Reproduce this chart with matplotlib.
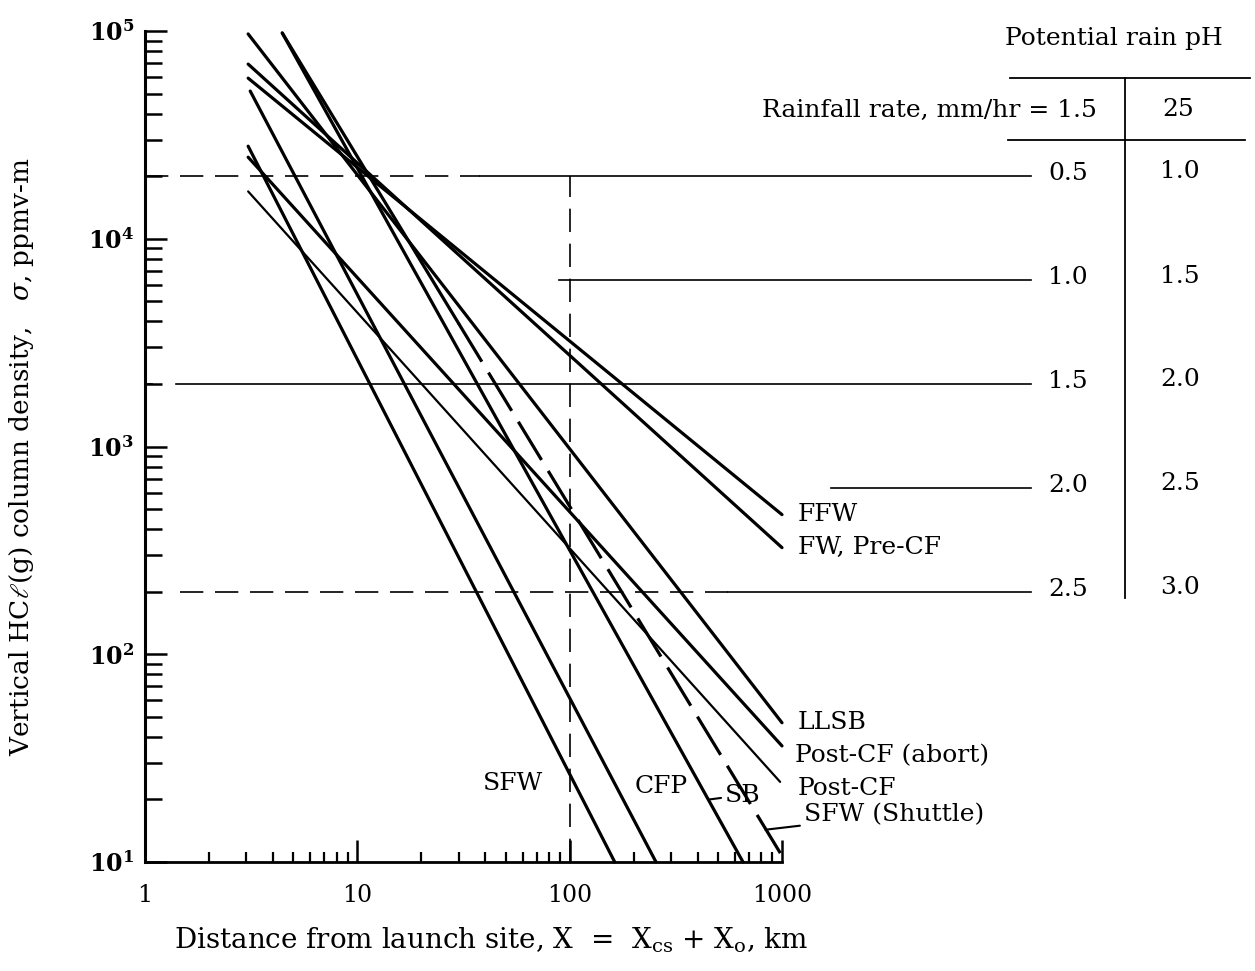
import numpy as np
import matplotlib
matplotlib.use("Agg")
import matplotlib.pyplot as plt
from matplotlib.lines import Line2D
from matplotlib import transforms
from matplotlib.ticker import FixedLocator, LogLocator, NullFormatter

plt.rcParams['font.family'] = ['DejaVu Serif', 'DejaVu Sans']
plt.rcParams['mathtext.fontset'] = 'dejavuserif'

# straight lines on log-log axes, end points
names = ['FFW', 'FW, Pre-CF', 'LLSB', 'Post-CF (abort)', 'Post-CF',
         'SFW (Shuttle)', 'SFW', 'CFP', 'SB']
x_start = [3.06, 3.06, 3.06, 3.06, 3.06, 4.43, 3.06, 3.13, 4.43]
y_start = [59300, 69300, 96800, 24700, 16900, 97800, 27900, 51400, 97800]
x_end = [1000, 1000, 1000, 1000, 980, 1000, 163, 255, 655]
y_end = [470, 326, 46.8, 36.2, 24.3, 10.7, 10, 10, 10]
x_dash_from = 30   # SFW (Shuttle) is drawn solid up to here, dashed after

# label anchor points (data coords)
lab_x = [1190, 1190, 1190, 1150, 1190, 1270, 54, 270, 540]
lab_y = [470, 326, 47, 32.4, 22.7, 16.9, 24, 23, 21]

# rainfall / pH table
sigma_levels = [2e4, 6300, 2e3, 630, 200]
ph_low = ['0.5', '1.0', '1.5', '2.0', '2.5']    # 1.5 mm/hr
ph_high = ['1.0', '1.5', '2.0', '2.5', '3.0']   # 25 mm/hr

fig = plt.figure(figsize=(12.55, 9.71), dpi=100)
ax = fig.add_axes([145/1255, 109/971, 637/1255, 831/971])
ax.set_xscale('log')
ax.set_yscale('log')
ax.set_xlim(1, 1000)
ax.set_ylim(10, 1e5)

for i, n in enumerate(names):
    lw = 1.6 if n == 'Post-CF' else 2.3
    xs = [x_start[i], x_end[i]]
    ys = [y_start[i], y_end[i]]
    if n == 'SFW (Shuttle)':
        # split at x_dash_from along the log-log straight line
        t = (np.log10(x_dash_from) - np.log10(xs[0])) / (np.log10(xs[1]) - np.log10(xs[0]))
        ym = 10 ** (np.log10(ys[0]) + t * (np.log10(ys[1]) - np.log10(ys[0])))
        ax.plot([xs[0], x_dash_from], [ys[0], ym], color='black', lw=lw,
                solid_capstyle='round', clip_on=False)
        ax.plot([x_dash_from, xs[1]], [ym, ys[1]], color='black', lw=lw,
                dashes=(14, 4), dash_capstyle='butt', clip_on=False)
    else:
        ax.plot(xs, ys, color='black', lw=lw, solid_capstyle='round', clip_on=False)

# labels
fs = 18
for i, n in enumerate(names[:5]):
    ax.text(lab_x[i], lab_y[i], n, fontsize=fs, va='center', ha='left')
ax.annotate('SFW (Shuttle)', xy=(835, 14.3), xytext=(lab_x[5], lab_y[5]),
            fontsize=fs, va='center', ha='left',
            arrowprops=dict(arrowstyle='-', lw=1.5, color='black', shrinkA=1, shrinkB=0))
ax.text(lab_x[6], lab_y[6], 'SFW', fontsize=fs, va='center', ha='center')
ax.text(lab_x[7], lab_y[7], 'CFP', fontsize=fs, va='center', ha='center')
ax.annotate('SB', xy=(455, 20), xytext=(lab_x[8], lab_y[8]),
            fontsize=fs, va='center', ha='left',
            arrowprops=dict(arrowstyle='-', lw=1.5, color='black', shrinkA=1, shrinkB=0))

# reference lines (sigma levels)
thin = dict(color='black', lw=1.2, clip_on=False)
xr = 14900
ax.plot([1, 38], [sigma_levels[0]]*2, dashes=(14, 7), **thin)
ax.plot([38, xr], [sigma_levels[0]]*2, **thin)
ax.plot([89, xr], [sigma_levels[1]]*2, **thin)
ax.plot([1, 1.08], [sigma_levels[2]]*2, **thin)
ax.plot([1.4, xr], [sigma_levels[2]]*2, **thin)
ax.plot([1700, xr], [sigma_levels[3]]*2, **thin)
ax.plot([1.46, 556], [sigma_levels[4]]*2, dashes=(14, 7), **thin)
ax.plot([556, xr], [sigma_levels[4]]*2, **thin)
ax.plot([100, 100], [10, sigma_levels[0]], dashes=(14, 7), **thin)

# table
ft = 18
bt = transforms.blended_transform_factory(fig.transFigure, ax.transData)
for lvl, a, b in zip(sigma_levels, ph_low, ph_high):
    ax.text(1068/1255, lvl * 1.03, a, transform=bt, fontsize=ft, ha='center', va='center')
    ax.text(1180/1255, lvl * 1.05, b, transform=bt, fontsize=ft, ha='center', va='center')

fig.text(1005/1255, 1 - 38/971, 'Potential rain pH', fontsize=ft, ha='left', va='center')
fig.text(1097/1255, 1 - 110/971, 'Rainfall rate, mm/hr = 1.5', fontsize=ft,
         ha='right', va='center')
fig.text(1178/1255, 1 - 110/971, '25', fontsize=ft, ha='center', va='center')
fig.add_artist(Line2D([1010/1255, 1250/1255], [1 - 78/971]*2, color='black', lw=1.3))
fig.add_artist(Line2D([1008/1255, 1245/1255], [1 - 140/971]*2, color='black', lw=1.3))
fig.add_artist(Line2D([1125/1255]*2, [1 - 78/971, 1 - 598/971], color='black', lw=1.3))

# axes styling
for s in ['top', 'right']:
    ax.spines[s].set_visible(False)
ax.spines['left'].set_linewidth(2.2)
ax.spines['bottom'].set_linewidth(2.0)

ax.xaxis.set_major_locator(FixedLocator([1, 10, 100, 1000]))
ax.set_xticklabels(['1', '10', '100', '1000'])
ax.xaxis.set_minor_locator(LogLocator(base=10, subs=np.arange(2, 10)))
ax.xaxis.set_minor_formatter(NullFormatter())
ax.yaxis.set_major_locator(FixedLocator([10, 100, 1e3, 1e4, 1e5]))
ax.set_yticklabels([r'$\mathbf{10^{%d}}$' % k for k in range(1, 6)])
ax.yaxis.set_minor_locator(LogLocator(base=10, subs=np.arange(2, 10)))
ax.yaxis.set_minor_formatter(NullFormatter())

ax.tick_params(axis='x', which='major', direction='in', length=16, width=1.8,
               pad=16, labelsize=17)
ax.tick_params(axis='x', which='minor', direction='in', length=7, width=1.6)
ax.tick_params(axis='y', which='major', direction='in', length=16, width=1.8,
               pad=8, labelsize=17)
ax.tick_params(axis='y', which='minor', direction='in', length=12, width=1.8)

fig.text(22/1255, 1 - 457/971, r'Vertical HC$\ell$(g) column density,   $\sigma$, ppmv-m',
         rotation=90, fontsize=19, ha='center', va='center')
fig.text(491/1255, 1 - 940/971,
         r'Distance from launch site, X  =  X$_{\rm cs}$ + X$_{\rm o}$, km',
         fontsize=20, ha='center', va='center')

fig.savefig('out.png', dpi=100)
